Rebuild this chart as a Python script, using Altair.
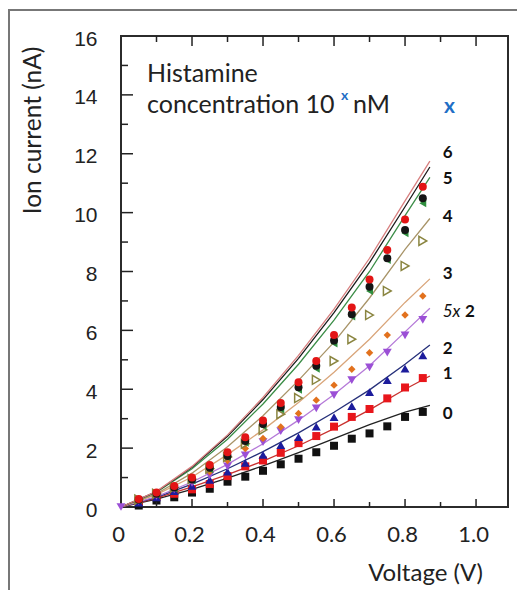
import altair as alt
import pandas as pd

# ---------------- data ----------------
V = [0.05, 0.10, 0.15, 0.20, 0.25, 0.30, 0.35, 0.40, 0.45, 0.50,
     0.55, 0.60, 0.65, 0.70, 0.75, 0.80, 0.85]
V_PURPLE = [0.0] + V

S0 = [0.05, 0.22, 0.33, 0.49, 0.62, 0.86, 1.03, 1.23, 1.45, 1.64, 1.86, 2.08, 2.32, 2.50, 2.74, 3.06, 3.23]
S1 = [0.20, 0.35, 0.45, 0.60, 0.78, 1.05, 1.38, 1.58, 1.84, 2.17, 2.41, 2.73, 3.06, 3.33, 3.69, 4.06, 4.38]
S2 = [0.15, 0.33, 0.54, 0.72, 0.92, 1.20, 1.50, 1.77, 2.10, 2.37, 2.73, 3.05, 3.43, 3.90, 4.31, 4.70, 5.15]
S5X2 = [0.0, 0.20, 0.38, 0.60, 0.82, 1.07, 1.38, 1.75, 2.20, 2.58, 2.95, 3.35, 3.80, 4.31, 4.74, 5.24, 5.83, 6.36]
S3 = [0.25, 0.45, 0.66, 0.92, 1.20, 1.58, 1.99, 2.33, 2.72, 3.18, 3.63, 4.14, 4.68, 5.24, 5.84, 6.52, 7.17]
S4 = [0.25, 0.45, 0.66, 0.95, 1.30, 1.70, 2.15, 2.62, 3.15, 3.70, 4.32, 4.96, 5.70, 6.52, 7.34, 8.19, 9.04]
SG = [0.24, 0.43, 0.63, 0.90, 1.28, 1.68, 2.18, 2.75, 3.32, 3.98, 4.70, 5.55, 6.47, 7.34, 8.39, 9.30, 10.32]
S5 = [0.25, 0.45, 0.66, 0.93, 1.33, 1.73, 2.24, 2.82, 3.40, 4.07, 4.80, 5.66, 6.55, 7.48, 8.45, 9.41, 10.49]
S6 = [0.27, 0.49, 0.71, 1.00, 1.43, 1.86, 2.37, 2.94, 3.53, 4.24, 4.96, 5.84, 6.78, 7.73, 8.73, 9.77, 10.88]

FIT_V = [0.0, 0.1, 0.2, 0.3, 0.4, 0.5, 0.6, 0.7, 0.8, 0.87]
FIT0 = [0.0, 0.27, 0.60, 0.98, 1.40, 1.85, 2.32, 2.80, 3.22, 3.45]
FIT1 = [0.0, 0.30, 0.68, 1.10, 1.56, 2.08, 2.66, 3.30, 4.00, 4.45]
FIT2 = [0.0, 0.33, 0.78, 1.30, 1.88, 2.52, 3.22, 3.98, 4.85, 5.50]
FIT5X2 = [0.0, 0.35, 0.85, 1.45, 2.15, 2.95, 3.82, 4.80, 5.95, 6.75]
FIT3 = [0.0, 0.42, 1.02, 1.78, 2.62, 3.55, 4.58, 5.70, 6.95, 7.75]
FIT4 = [0.0, 0.45, 1.15, 2.05, 3.10, 4.30, 5.60, 7.10, 8.75, 9.80]
FITG = [0.0, 0.50, 1.30, 2.30, 3.50, 4.85, 6.35, 8.00, 9.90, 11.20]
FIT5 = [0.0, 0.52, 1.35, 2.40, 3.65, 5.05, 6.60, 8.30, 10.20, 11.55]
FIT6 = [0.0, 0.53, 1.38, 2.45, 3.72, 5.15, 6.72, 8.45, 10.40, 11.75]

SERIES_LABELS = ["6", "5", "4", "3", "2", "1", "0"]
SERIES_LABEL_I = [12.03, 11.15, 9.86, 7.90, 5.36, 4.51, 3.15]
LABEL_V = 0.906

X_TICK_LABELS = [0, 0.2, 0.4, 0.6, 0.8, 1.0]
Y_TICK_LABELS = [0, 2, 4, 6, 8, 10, 12, 14, 16]
X_MAJOR = [0.2, 0.4, 0.6, 0.8, 1.0]
X_MINOR = [0.1, 0.3, 0.5, 0.7, 0.9]
Y_MAJOR = [2, 4, 6, 8, 10, 12, 14]
Y_MINOR = [1, 3, 5, 7, 9, 11, 13, 15]

W, H = 387, 471

xs = alt.Scale(domain=[0, 1.09], nice=False, zero=False)
ys = alt.Scale(domain=[0, 16], nice=False, zero=False)

xaxis = alt.Axis(values=X_TICK_LABELS, format=".1f",
                 labelExpr="datum.value == 0 ? '0' : datum.label",
                 ticks=False, tickSize=0, domain=False, grid=False,
                 labelFont="Lato", labelFontSize=22, labelColor="#222",
                 labelPadding=17, labelFlush=False, labelOffset=-3,
                 title="Voltage (V)", titleFont="Lato", titleFontSize=24,
                 titleFontWeight="normal", titleColor="#222",
                 titleX=304, titleY=73, titleAlign="center",
                 titleBaseline="alphabetic")
yaxis = alt.Axis(values=Y_TICK_LABELS, format="d",
                 ticks=False, tickSize=0, domain=False, grid=False,
                 labelFont="Liberation Sans", labelFontSize=21, labelColor="#222",
                 labelPadding=24, labelOffset=3, labelFlush=False,
                 title="Ion current (nA)", titleFont="Lato", titleFontSize=24.5,
                 titleFontWeight="normal", titleColor="#222",
                 titleX=-81, titleY=94, titleAngle=270, titleAlign="center",
                 titleBaseline="alphabetic")


def X(field="v"):
    return alt.X(f"{field}:Q", scale=xs, axis=xaxis)


def Y(field="I"):
    return alt.Y(f"{field}:Q", scale=ys, axis=yaxis)


layers = []

# fitted lines
fits = [(FIT0, "#222222"), (FIT1, "#c8322f"), (FIT2, "#26307a"),
        (FIT5X2, "#b57ad8"), (FIT3, "#d9a57a"), (FIT4, "#a89468"),
        (FITG, "#3b8d47"), (FIT5, "#1a1a1a"), (FIT6, "#d88080")]
for vals, col in fits:
    df = pd.DataFrame({"v": FIT_V, "I": vals})
    layers.append(alt.Chart(df).mark_line(color=col, strokeWidth=1.3)
                  .encode(x=X(), y=Y()))

# measured points
pts = [(V, S0, "square", "#111111", True, 64),
       (V, S1, "square", "#e8161b", True, 64),
       (V, S2, "triangle-up", "#1c1c9c", True, 80),
       (V_PURPLE, S5X2, "triangle-down", "#9b4fd6", True, 80),
       (V, S3, "diamond", "#e2711d", True, 55),
       (V, S4, "triangle-right", "#8a8540", False, 80),
       (V, SG, "triangle-left", "#2f8f3f", True, 64),
       (V, S5, "circle", "#151515", True, 64),
       (V, S6, "circle", "#e31515", True, 64)]
for vv, vals, shp, col, filled, sz in pts:
    df = pd.DataFrame({"v": vv, "I": vals})
    if filled:
        m = alt.Chart(df).mark_point(shape=shp, filled=True, color=col,
                                     size=sz, opacity=1)
    else:
        m = alt.Chart(df).mark_point(shape=shp, filled=False, color=col,
                                     size=sz, strokeWidth=1.5, opacity=1)
    layers.append(m.encode(x=X(), y=Y()))

# inward ticks drawn as rules
def hticks(vals, length):
    df = pd.DataFrame({"I": vals})
    return alt.Chart(df).mark_rule(color="#222", strokeWidth=1.5).encode(
        y=Y(), x=alt.value(0), x2=alt.value(length))


def vticks(vals, y0, y1):
    df = pd.DataFrame({"v": vals})
    return alt.Chart(df).mark_rule(color="#222", strokeWidth=1.5).encode(
        x=X(), y=alt.value(y0), y2=alt.value(y1))


layers += [hticks(Y_MAJOR, 12), hticks(Y_MINOR, 7),
           vticks(X_MAJOR, 0, 10), vticks(X_MINOR, 0, 6),
           vticks(X_MAJOR, H, H - 8), vticks(X_MINOR, H, H - 5)]

# outer figure frame (left and top edges)
one = pd.DataFrame({"a": [0]})
layers.append(alt.Chart(one).mark_rule(color="#777", strokeWidth=2).encode(
    x=alt.value(-112), y=alt.value(-26), y2=alt.value(560)))
layers.append(alt.Chart(one).mark_rule(color="#777", strokeWidth=2).encode(
    y=alt.value(-26), x=alt.value(-113), x2=alt.value(400)))

# series labels on the right
lab = pd.DataFrame({"v": [LABEL_V] * len(SERIES_LABELS), "I": SERIES_LABEL_I,
                    "t": SERIES_LABELS})
layers.append(alt.Chart(lab).mark_text(font="Lato", fontSize=17, fontWeight="bold",
                                       align="left", baseline="middle", color="#111")
              .encode(x=X(), y=Y(), text="t:N"))
lab5x = pd.DataFrame({"v": [LABEL_V], "I": [6.64], "t": ["5x"]})
layers.append(alt.Chart(lab5x).mark_text(font="Lato", fontSize=17, fontStyle="italic",
                                         align="left", baseline="middle", color="#111")
              .encode(x=X(), y=Y(), text="t:N"))
lab52 = pd.DataFrame({"v": [0.969], "I": [6.64], "t": ["2"]})
layers.append(alt.Chart(lab52).mark_text(font="Lato", fontSize=17, fontWeight="bold",
                                         align="left", baseline="middle", color="#111")
              .encode(x=X(), y=Y(), text="t:N"))

# legend-like annotation text
ann = pd.DataFrame({"v": [0.0732, 0.0732, 0.6535], "I": [14.44, 13.38, 13.38],
                    "t": ["Histamine", "concentration 10", "nM"]})
layers.append(alt.Chart(ann).mark_text(font="Lato", fontSize=25, align="left",
                                       baseline="alphabetic", color="#222")
              .encode(x=X(), y=Y(), text="t:N"))
sup = pd.DataFrame({"v": [0.6197], "I": [13.83], "t": ["x"]})
layers.append(alt.Chart(sup).mark_text(font="Lato", fontSize=14, fontWeight="bold",
                                       align="left", baseline="alphabetic", color="#1f6fc6")
              .encode(x=X(), y=Y(), text="t:N"))
bx = pd.DataFrame({"v": [0.91], "I": [13.38], "t": ["x"]})
layers.append(alt.Chart(bx).mark_text(font="Lato", fontSize=21, fontWeight="bold",
                                      align="left", baseline="alphabetic", color="#1f6fc6")
              .encode(x=X(), y=Y(), text="t:N"))

chart = alt.layer(*layers).properties(
    width=W, height=H,
    autosize=alt.AutoSizeParams(type="none"),
    padding={"left": 113, "top": 28, "right": 9, "bottom": 83},
    background="white",
).configure_view(stroke="#2b2b2b", strokeWidth=2)

chart.save("out.html", embed_options={"renderer": "svg", "actions": False})
